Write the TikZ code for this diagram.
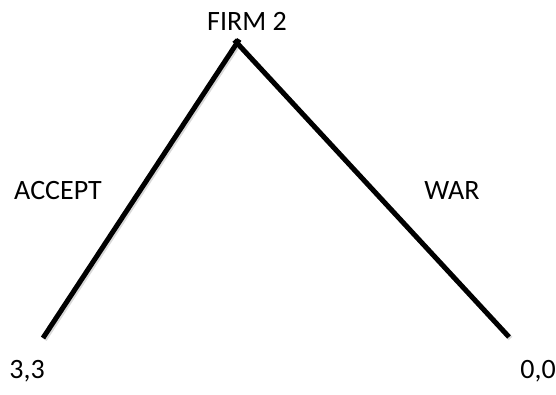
\documentclass[tikz,border=0pt]{standalone}
\usepackage{fontspec}
\usetikzlibrary{calc}
\setmainfont{Carlito}
\begin{document}
\begin{tikzpicture}[x=1pt,y=-1pt,
  lbl/.style={font=\fontsize{28}{31}\selectfont, inner sep=0pt, anchor=base},
  branch/.style={line width=5pt, line cap=butt},
  shade/.style={line width=5pt, draw=black!25, opacity=0.6}]
\useasboundingbox (0,0) rectangle (556,394);
\coordinate (top) at (237,43);
\coordinate (l) at (43,338);
\coordinate (r) at (509,337);
\node[lbl] (firm) at (247,30) {FIRM 2};
\node[lbl] (acc) at (58,199) {ACCEPT};
\node[lbl] (war) at (452,199) {WAR};
\node[lbl] (p1) at (27,378) {3,3};
\node[lbl] (p2) at (538,378) {0,0};
\draw[shade] ([shift={(1.5,1.5)}]top) -- ([shift={(1.5,1.5)}]l);
\draw[shade] ([shift={(1.5,1.5)}]top) -- ([shift={(1.5,1.5)}]r);
\draw[branch] ($(l)!1.012!(top)$) -- (l);
\draw[branch] ($(r)!1.01!(top)$) -- (r);
\end{tikzpicture}
\end{document}
